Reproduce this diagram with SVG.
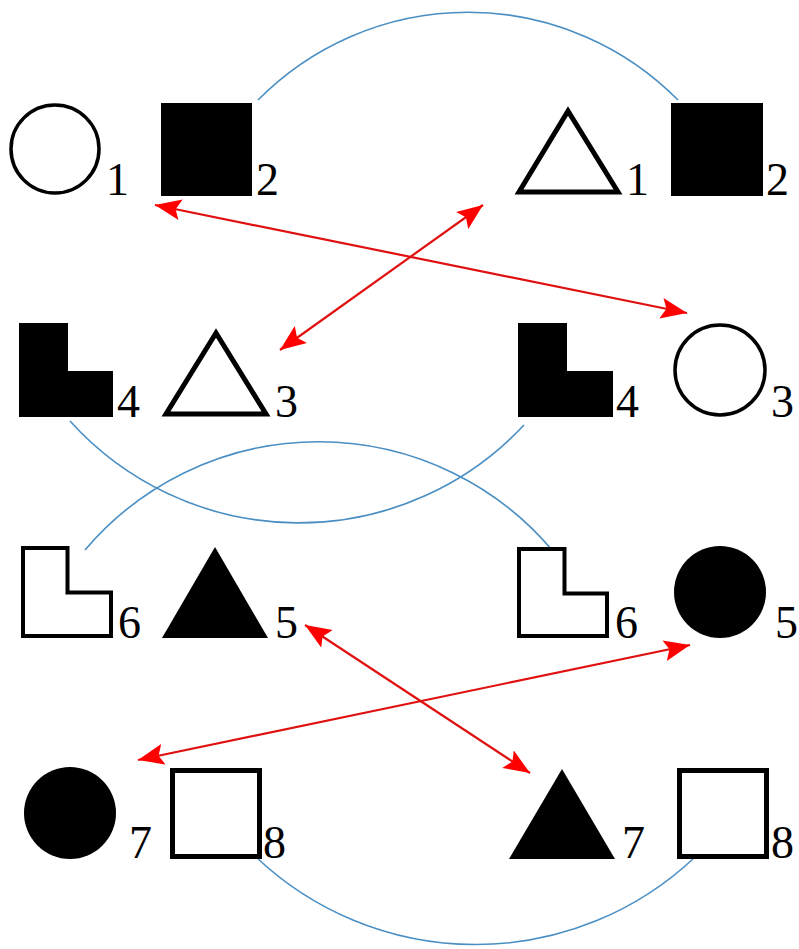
<svg xmlns="http://www.w3.org/2000/svg" width="799" height="949" viewBox="0 0 799 949">
<style>
text{font-family:"Liberation Serif",serif;font-size:46px;fill:#000}
.fill{fill:#000;stroke:none}
.out{fill:#fff;stroke:#000;stroke-width:4;stroke-linejoin:miter}
.blue{fill:none;stroke:#4a8fc4;stroke-width:1.6}
.red{fill:none;stroke:#e01010;stroke-width:2.2;marker-start:url(#ah);marker-end:url(#ah)}
</style>
<defs>
<marker id="ah" markerUnits="userSpaceOnUse" markerWidth="28" markerHeight="22" refX="26" refY="10" orient="auto-start-reverse" viewBox="0 0 28 22">
<path d="M0,0 L26,10 L0,21 L5,10 Z" fill="#ff0000"/>
</marker>
</defs>
<rect width="799" height="949" fill="#fff"/>
<g id="connectors">
<path class="blue" d="M258,100 A295,295 0 0 1 678,100"/>
<path class="blue" d="M70,421 A308,308 0 0 0 524,425"/>
<path class="blue" d="M85,550 A306,306 0 0 1 552,550"/>
<path class="blue" d="M256,857 A319,319 0 0 0 694,858"/>
<line class="red" x1="155" y1="205" x2="687" y2="313"/>
<line class="red" x1="483" y1="205" x2="280" y2="350"/>
<line class="red" x1="305" y1="625" x2="530" y2="773"/>
<line class="red" x1="690" y1="645" x2="138" y2="760"/>
</g>
<g id="n-circle1-left"><circle cx="55" cy="149" r="44" fill="#fff" stroke="#000" stroke-width="3.5"/><text x="106" y="195">1</text></g>
<g id="n-square2-left"><rect class="fill" x="161" y="103" width="91" height="93"/><text x="256" y="195">2</text></g>
<g id="n-triangle1-right"><polygon class="out" style="stroke-width:5" points="568,111 519,192 618,192"/><text x="626" y="195">1</text></g>
<g id="n-square2-right"><rect class="fill" x="671" y="103" width="92" height="93"/><text x="766" y="195">2</text></g>
<g id="n-L4-left"><polygon class="fill" points="19,323 68,323 68,371 113,371 113,417 19,417"/><text x="117" y="417">4</text></g>
<g id="n-triangle3-left"><polygon class="out" style="stroke-width:5" points="216,333 166,414 266,414"/><text x="275" y="417">3</text></g>
<g id="n-L4-right"><polygon class="fill" points="518,323 567,323 567,371 613,371 613,417 518,417"/><text x="616" y="417">4</text></g>
<g id="n-circle3-right"><circle cx="720" cy="370" r="45" fill="#fff" stroke="#000" stroke-width="3.5"/><text x="771" y="417">3</text></g>
<g id="n-L6-left"><path class="out" d="M23,548 H67.5 V592.5 H111 V636 H23 Z"/><text x="118" y="638">6</text></g>
<g id="n-triangle5-left"><polygon class="fill" points="215,547 162,638 268,638"/><text x="275" y="638">5</text></g>
<g id="n-L6-right"><path class="out" d="M519,549 H564.5 V593.5 H607 V636 H519 Z"/><text x="615" y="638">6</text></g>
<g id="n-circle5-right"><circle class="fill" cx="720" cy="592" r="46"/><text x="775" y="638">5</text></g>
<g id="n-circle7-left"><circle class="fill" cx="70" cy="813" r="46"/><text x="129" y="858">7</text></g>
<g id="n-square8-left"><rect class="out" style="stroke-width:5" x="172.5" y="770.5" width="87" height="86"/><text x="263" y="858">8</text></g>
<g id="n-triangle7-right"><polygon class="fill" points="562,769 509,859 615,859"/><text x="622" y="858">7</text></g>
<g id="n-square8-right"><rect class="out" style="stroke-width:5" x="679.5" y="770.5" width="87" height="86"/><text x="771" y="858">8</text></g>
</svg>
